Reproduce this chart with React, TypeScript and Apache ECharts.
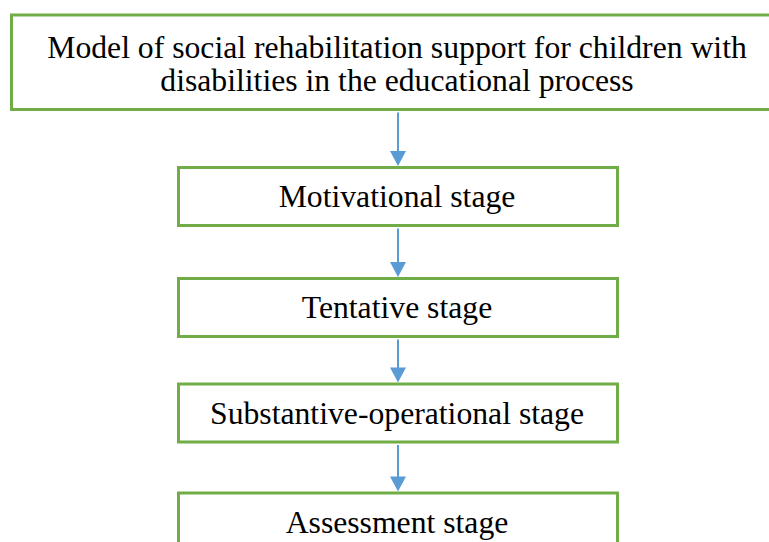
import React, { useEffect, useRef } from "react";
import * as echarts from "echarts";

const titleLines = [
  "Model of social rehabilitation support for children with",
  "disabilities in the educational process",
];
const stages = [
  "Motivational stage",
  "Tentative stage",
  "Substantive-operational stage",
  "Assessment stage",
];

// layout constants
const GREEN = "#70AD47";
const BLUE = "#5B9BD5";
const FONT = "'Liberation Serif', 'Times New Roman', serif";
const FONT_SIZE = 31.7;
const CX = 398;
const TITLE_BOX = { x: 11.5, y: 15, w: 780, h: 94.5 };
const TITLE_BASELINES = [58, 91];
const STAGE_X = 178.5;
const STAGE_W = 439;
const STAGE_H = 58;
const STAGE_TOPS = [167.5, 278.5, 384, 493];
const BASELINE_OFFSET = 39.8;
const CENTRAL = 0.3375 * FONT_SIZE;

function arrow(fromY: number, toY: number): any[] {
  const headH = 15;
  return [
    {
      type: "line",
      shape: { x1: CX, y1: fromY, x2: CX, y2: toY - headH + 1 },
      style: { stroke: BLUE, lineWidth: 2 },
    },
    {
      type: "polygon",
      shape: {
        points: [
          [CX - 8, toY - headH],
          [CX + 8, toY - headH],
          [CX, toY],
        ],
      },
      style: { fill: BLUE },
    },
  ];
}

function textAt(str: string, baseline: number): any {
  return {
    type: "text",
    x: CX - 1,
    y: baseline - CENTRAL,
    style: {
      text: str,
      fill: "#000",
      fontFamily: FONT,
      fontSize: FONT_SIZE,
      textAlign: "center",
      textVerticalAlign: "middle",
    },
  };
}

export default function App() {
  const ref = useRef<HTMLDivElement>(null);
  useEffect(() => {
    if (!ref.current) return;
    const chart = echarts.init(ref.current, null, { renderer: "svg" });
    const els: any[] = [];
    els.push({
      type: "rect",
      shape: { x: TITLE_BOX.x, y: TITLE_BOX.y, width: TITLE_BOX.w, height: TITLE_BOX.h },
      style: { fill: "#fff", stroke: GREEN, lineWidth: 3 },
    });
    titleLines.forEach((t, i) => els.push(textAt(t, TITLE_BASELINES[i])));
    els.push(...arrow(TITLE_BOX.y + TITLE_BOX.h + 3, STAGE_TOPS[0] - 1.5));
    stages.forEach((s, i) => {
      const top = STAGE_TOPS[i];
      els.push({
        type: "rect",
        shape: { x: STAGE_X, y: top, width: STAGE_W, height: STAGE_H },
        style: { fill: "#fff", stroke: GREEN, lineWidth: 3 },
      });
      els.push(textAt(s, top + BASELINE_OFFSET));
      if (i < stages.length - 1) {
        els.push(...arrow(top + STAGE_H + 3, STAGE_TOPS[i + 1] - 1.5));
      }
    });
    chart.setOption({
      animation: false,
      backgroundColor: "#fff",
      graphic: { elements: els },
    });
    return () => chart.dispose();
  }, []);
  return (
    <div
      ref={ref}
      style={{ position: "fixed", left: 0, top: 0, width: 769, height: 542 }}
    />
  );
}
